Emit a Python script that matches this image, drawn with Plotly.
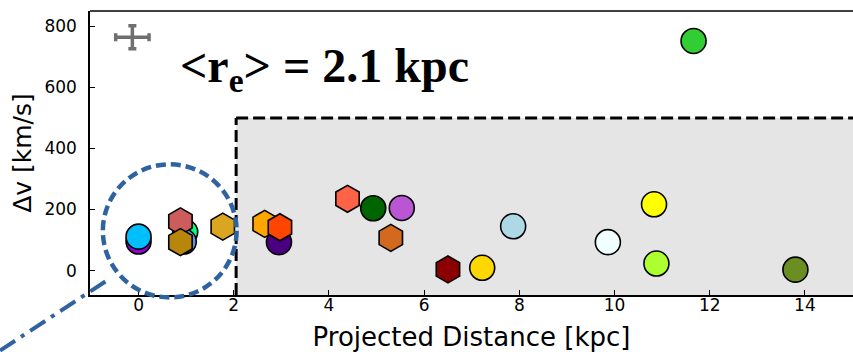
import plotly.graph_objects as go

# Galaxies drawn as circles: projected distance [kpc], velocity offset [km/s]
circ_x = [0.0, 0.0, 0.98, 0.95, 2.95, 4.93, 5.53, 7.22, 7.87, 9.86, 10.83, 10.88, 13.80, 11.66]
circ_y = [95, 111, 126, 95, 93, 204, 205, 9, 145, 93, 217, 23, 3, 752]
circ_c = ["darkviolet", "deepskyblue", "springgreen", "cornflowerblue", "indigo",
          "darkgreen", "mediumorchid", "gold", "lightblue", "azure", "yellow",
          "greenyellow", "olivedrab", "limegreen"]

# Galaxies drawn as hexagons
hex_x = [0.88, 0.88, 1.77, 2.65, 2.97, 4.39, 5.30, 6.50]
hex_y = [161, 93, 144, 153, 142, 235, 107, 4]
hex_c = ["indianred", "darkgoldenrod", "goldenrod", "orange", "orangered",
         "tomato", "chocolate", "darkred"]

# Typical uncertainty shown as a single cross
err_x, err_y = [-0.13], [764]
err_dx, err_dy = [0.35], [38]

# Shaded region boundaries
box_x0, box_y1 = 2.05, 500

x_ticks = [0, 2, 4, 6, 8, 10, 12, 14]
y_ticks = [0, 200, 400, 600, 800]
x_range = [-1.02, 15.01]
y_range = [-80, 850]


def px(x):
    return (x - x_range[0]) / (x_range[1] - x_range[0])


def py(y):
    return (y - y_range[0]) / (y_range[1] - y_range[0])


fig = go.Figure()

fig.add_trace(go.Scatter(
    x=err_x, y=err_y, mode="markers",
    marker=dict(size=1, color="#6f6f6f"),
    error_x=dict(type="data", array=err_dx, color="#6f6f6f", thickness=3.5, width=4),
    error_y=dict(type="data", array=err_dy, color="#6f6f6f", thickness=3.5, width=4),
    showlegend=False, hoverinfo="skip"))

fig.add_trace(go.Scatter(
    x=circ_x, y=circ_y, mode="markers",
    marker=dict(symbol="circle", size=25, color=circ_c,
                line=dict(color="black", width=1.6)),
    showlegend=False))

fig.add_trace(go.Scatter(
    x=hex_x, y=hex_y, mode="markers",
    marker=dict(symbol="hexagon", size=27, color=hex_c,
                line=dict(color="black", width=1.6)),
    showlegend=False))

# grey region and its dashed border
fig.add_shape(type="rect", x0=box_x0, x1=16, y0=y_range[0], y1=box_y1,
              fillcolor="#e5e5e5", line=dict(width=0), layer="below")
fig.add_shape(type="line", x0=box_x0, x1=box_x0, y0=y_range[0], y1=box_y1,
              line=dict(color="black", width=3, dash="12px,5px"))
fig.add_shape(type="line", x0=box_x0, x1=16, y0=box_y1, y1=box_y1,
              line=dict(color="black", width=3, dash="12px,5px"))

# top frame line
fig.add_shape(type="line", xref="paper", yref="paper", x0=0, x1=1, y0=1, y1=1,
              line=dict(color="black", width=1.5))

# dashed ring around the inner group, and its pointer line
blue = "#2f63a0"
fig.add_shape(type="circle", xref="paper", yref="paper",
              x0=px(-0.75), x1=px(2.06), y0=py(-88), y1=py(348),
              line=dict(color=blue, width=4.5, dash="10px,5px"))
fig.add_shape(type="line", xref="paper", yref="paper",
              x0=px(-2.91), y0=py(-262), x1=px(-0.64), y1=py(-30),
              line=dict(color=blue, width=4, dash="18px,7px,4px,7px"))

fig.add_annotation(x=0.83, y=659, xanchor="left", yanchor="middle",
                   text="<b>&lt;r<sub>e</sub>&gt; = 2.1 kpc</b>", showarrow=False,
                   font=dict(family="Liberation Serif", size=48, color="black"))

axis_common = dict(showline=True, linecolor="black", linewidth=1.5,
                   ticks="inside", ticklen=5, tickwidth=1.2, tickcolor="black",
                   showgrid=False, zeroline=False,
                   tickfont=dict(family="DejaVu Sans", size=17, color="black"))

fig.update_xaxes(range=x_range, tickvals=x_ticks, ticklabelstandoff=-6,
                 title=dict(text="Projected Distance [kpc]", standoff=14,
                            font=dict(family="DejaVu Sans", size=26, color="black")),
                 **axis_common)
fig.update_yaxes(range=y_range, tickvals=y_ticks, ticklabelstandoff=8,
                 title=dict(text="Δv [km/s]", standoff=6,
                            font=dict(family="DejaVu Sans", size=25, color="black")),
                 **axis_common)

fig.update_layout(width=853, height=352, margin=dict(l=90, r=0, t=11, b=57),
                  plot_bgcolor="white", paper_bgcolor="white")

fig.write_html("out.html")
